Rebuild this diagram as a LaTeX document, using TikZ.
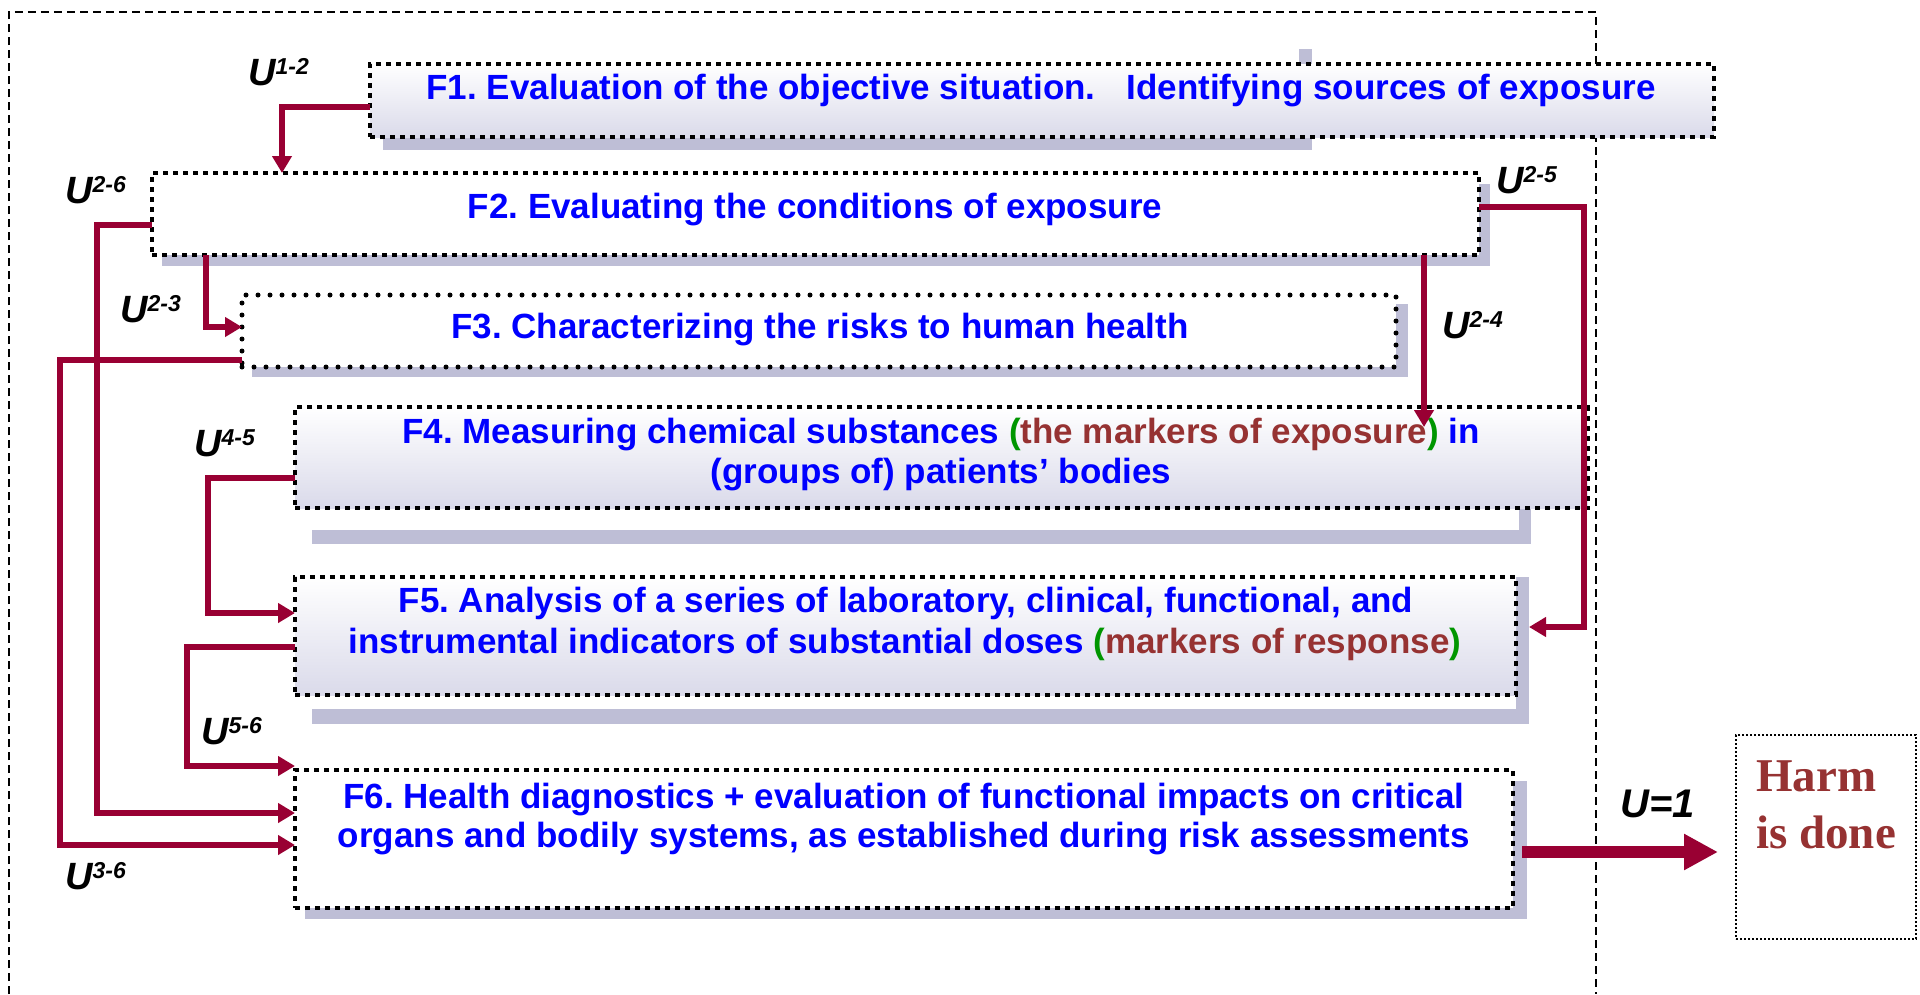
\documentclass[tikz,border=0pt]{standalone}
\usepackage{fontspec}
\setmainfont{Liberation Sans}
\newfontfamily\timesf{Liberation Serif}
\usetikzlibrary{arrows.meta,calc}
\definecolor{blueT}{RGB}{0,0,255}
\definecolor{brownT}{RGB}{150,50,50}
\definecolor{greenT}{RGB}{0,150,0}
\definecolor{connC}{RGB}{153,0,51}
\definecolor{shadowC}{RGB}{190,190,214}
\definecolor{lav}{RGB}{218,218,234}
\frenchspacing
\newcommand{\Ulab}[1]{U\raisebox{11pt}{\fontsize{23}{23}\selectfont #1}}
\tikzset{
  boxsq/.style={draw=black, line width=4pt, dash pattern=on 5pt off 5pt, inner sep=0pt, outer sep=0pt},
  boxrd/.style={draw=black, line width=5pt, dash pattern=on 0pt off 12pt, line cap=round, inner sep=0pt, outer sep=0pt},
  gradfill/.style={top color=white, bottom color=lav},
  conn/.style={draw=connC, line width=6pt, -{Triangle[length=17pt,width=19pt]}},
  ftext/.style={font=\fontsize{35}{40}\selectfont\bfseries, text=blueT, inner sep=0pt, anchor=base},
  ulab/.style={font=\fontsize{38}{38}\selectfont\bfseries\itshape, text=black, inner sep=0pt, anchor=base west},
  harmtext/.style={font=\timesf\fontsize{47}{47}\selectfont\bfseries, text=brownT, inner sep=0pt, anchor=base west},
}
\begin{document}
\begin{tikzpicture}[x=1pt,y=-1pt]
\useasboundingbox (0,0) rectangle (1920,994);
% outer dashed frame
\draw[line width=1.5pt, dash pattern=on 8pt off 5pt] (9,994) -- (9,12) -- (1596,12) -- (1596,994);

% shadows
\fill[shadowC] (1299,49) rectangle (1312,64);
\fill[shadowC] (383,137) rectangle (1312,150);
\fill[shadowC] (162,184) rectangle (1490,266);
\fill[shadowC] (252,304) rectangle (1408,377);
\fill[shadowC] (312,530) rectangle (1531,544);
\fill[shadowC] (1519,508) rectangle (1531,544);
\fill[shadowC] (1516,577) rectangle (1529,724);
\fill[shadowC] (312,709) rectangle (1529,724);
\fill[shadowC] (305,781) rectangle (1527,919);

% boxes
\node[boxsq, gradfill, minimum width=1344pt, minimum height=73pt] (f1) at (1042,100.5) {};
\node[boxsq, fill=white, minimum width=1327pt, minimum height=82pt] (f2) at (815.5,214) {};
\node[boxrd, fill=white, minimum width=1154pt, minimum height=72pt] (f3) at (819,331) {};
\node[boxsq, gradfill, minimum width=1293pt, minimum height=101pt] (f4) at (941.5,457.5) {};
\node[boxsq, gradfill, minimum width=1221pt, minimum height=118pt] (f5) at (905.5,636) {};
\node[boxsq, fill=white, minimum width=1218pt, minimum height=138pt] (f6) at (904,839) {};
\node[draw=black, line width=2pt, dash pattern=on 2pt off 2pt, fill=white, inner sep=0pt,
      minimum width=180pt, minimum height=204pt] (harm) at (1826,837) {};

% box texts
\node[ftext] (t1) at (1041,99) {F1. Evaluation of the objective situation.\hspace{31pt}Identifying sources of exposure};
\node[ftext] (t2) at (815,218) {F2. Evaluating the conditions of exposure};
\node[ftext] (t3) at (820,338) {F3. Characterizing the risks to human health};
\node[ftext] (t4a) at (941,443) {F4. Measuring chemical substances \textcolor{greenT}{(}\textcolor{brownT}{the markers of exposure}\textcolor{greenT}{)} in};
\node[ftext] (t4b) at (941,483) {(groups of) patients’ bodies};
\node[ftext] (t5a) at (906,612) {F5. Analysis of a series of laboratory, clinical, functional, and};
\node[ftext] (t5b) at (905,653) {instrumental indicators of substantial doses \textcolor{greenT}{(}\textcolor{brownT}{markers of response}\textcolor{greenT}{)}};
\node[ftext] (t6a) at (904,808) {F6. Health diagnostics + evaluation of functional impacts on critical};
\node[ftext] (t6b) at (904,847) {organs and bodily systems, as established during risk assessments};
\node[harmtext] (h1) at (1756,791) {Harm};
\node[harmtext] (h2) at (1756,848) {is done};

% connectors
\draw[conn] ($(f1.north west)+(0,43)$) -| ($(f2.north west)+(130,0)$);
\draw[conn] ($(f2.north west)+(0,52)$) -- ++(-55,0) |- ($(f6.north west)+(0,43)$);
\draw[conn] ($(f2.south west)+(54,0)$) |- ($(f3.north west)+(0,32)$);
\draw[conn] ($(f3.north west)+(0,65)$) -- ++(-182,0) |- ($(f6.north west)+(0,75)$);
\draw[conn] ($(f2.south west)+(1272,0)$) -- ($(f4.north west)+(1129,20)$);
\draw[conn] ($(f2.north east)+(0,34)$) -- ++(105,0) |- ($(f5.north east)+(13,50)$);
\draw[conn] ($(f4.north west)+(0,71)$) -- ++(-87,0) |- ($(f5.north west)+(0,36)$);
\draw[conn] ($(f5.north west)+(0,70)$) -- ++(-108,0) |- ($(f6.north west)+(0,-4)$);
\draw[draw=connC, line width=12pt, -{Triangle[length=34pt,width=34pt]}] ($(f6.north east)+(9,82)$) -- ($(harm.west)+(-17,15)$);

% labels
\node[ulab] (u12) at (248,85) {\Ulab{1-2}};
\node[ulab] (u26) at (65,203) {\Ulab{2-6}};
\node[ulab] (u23) at (120,322) {\Ulab{2-3}};
\node[ulab] (u24) at (1442,338) {\Ulab{2-4}};
\node[ulab] (u25) at (1496,193) {\Ulab{2-5}};
\node[ulab] (u45) at (194,456) {\Ulab{4-5}};
\node[ulab] (u56) at (201,744) {\Ulab{5-6}};
\node[ulab] (u36) at (65,889) {\Ulab{3-6}};
\node[font=\fontsize{40}{40}\selectfont\bfseries\itshape, inner sep=0pt, anchor=base west] (u1) at (1620,817) {U=1};
\end{tikzpicture}
\end{document}
